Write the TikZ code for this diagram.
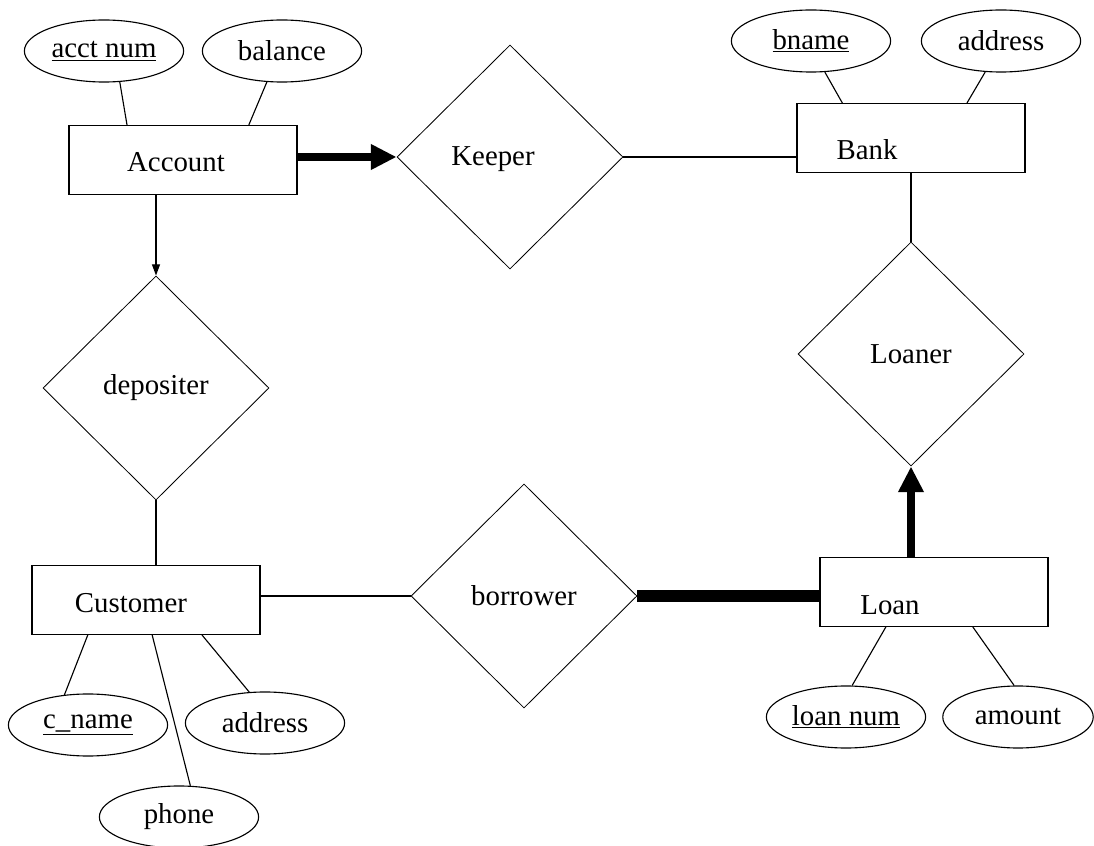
\documentclass[tikz,border=0pt]{standalone}
\usepackage{fontspec}
\setmainfont{Liberation Serif}
\usepackage{tikz}
\usetikzlibrary{shapes.geometric}
\usetikzlibrary{arrows.meta}

\tikzset{
  erfont/.style={font=\fontsize{20.5}{24}\selectfont},
  entity/.style={draw, erfont, line width=0.8pt, minimum width=5.7cm, minimum height=1.72cm, inner sep=0pt},
  relation/.style={draw, diamond, erfont, line width=0.6pt, minimum width=5.65cm, minimum height=5.6cm, inner sep=0pt},
  attrib/.style={draw, ellipse, erfont, line width=0.8pt, minimum width=3.98cm, minimum height=1.55cm, inner sep=0pt},
  link/.style={line width=0.8pt},
  heavy/.style={line width=0.3cm},
  bigarrow/.style={line width=0.19cm, -{Triangle[length=0.64cm, width=0.6cm]}},
  thinarrow/.style={line width=0.8pt, -{Triangle[length=0.28cm, width=0.2cm]}},
}

\begin{document}
\begin{tikzpicture}[x=0.025cm, y=-0.025cm]
\useasboundingbox (0,0) rectangle (1094,846);

% entities
\node[entity, label={[erfont, shift={(-7,2)}]center:Account}] (account) at (183,160) {};
\node[entity, label={[erfont, shift={(-44,12)}]center:Bank}] (bank) at (911,138) {};
\node[entity, label={[erfont, shift={(-15,3)}]center:Customer}] (customer) at (146,600) {};
\node[entity, label={[erfont, shift={(-44,13)}]center:Loan}] (loan) at (934,592) {};

% relationships
\node[relation, label={[erfont, shift={(-17,2)}]center:Keeper}] (keeper) at (510,157) {};
\node[relation] (depositer) at (156,388) {depositer};
\node[relation] (loaner) at (911,354) {Loaner};
\node[relation] (borrower) at (524,596) {borrower};

% attributes
\node[attrib] (acctnum) at (104,51) {\underline{acct num}};
\node[attrib] (balance) at (282,51) {balance};
\node[attrib] (bname) at (811,41) {\underline{bname}};
\node[attrib] (baddress) at (1001,41) {address};
\node[attrib] (cname) at (88,725) {\underline{c\_name}};
\node[attrib] (caddress) at (265,723) {address};
\node[attrib] (phone) at (179,817) {phone};
\node[attrib] (loannum) at (846,717) {\underline{loan num}};
\node[attrib, minimum width=3.76cm] (amount) at (1018,717) {amount};

% relationship links
\draw[bigarrow] (account.east |- keeper.west) -- (keeper.west);
\draw[link] (keeper.east) -- (keeper.east -| bank.west);
\draw[link] (bank.south -| loaner.north) -- (loaner.north);
\draw[bigarrow] (loan.north -| loaner.south) -- (loaner.south);
\draw[heavy] (borrower.east) -- (borrower.east -| loan.west);
\draw[link] (customer.east |- borrower.west) -- (borrower.west);
\draw[thinarrow] (account.south -| depositer.north) -- (depositer.north);
\draw[link] (depositer.south) -- (depositer.south |- customer.north);

% attribute links
\draw[link] (acctnum.-63) -- (account.148);
\draw[link] (balance.-116) -- (account.28);
\draw[link] (bname.-66) -- (bank.153);
\draw[link] (baddress.-117) -- (bank.32);
\draw[link] (cname.128) -- (customer.-149);
\draw[link] (caddress.117) -- (customer.-32);
\draw[link] (phone.70) -- (customer.-80);
\draw[link] (loannum.79) -- (loan.-144);
\draw[link] (amount.97) -- (loan.-42);
\end{tikzpicture}
\end{document}
